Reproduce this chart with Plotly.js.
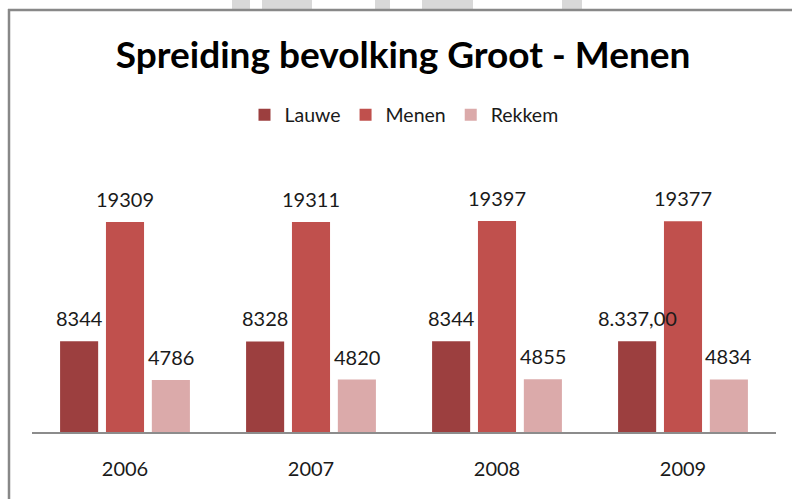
<!DOCTYPE html>
<html>
<head>
<meta charset="utf-8">
<script src="https://cdn.plot.ly/plotly-3.0.1.min.js"></script>
<style>html,body{margin:0;padding:0;background:#fff;} #chart{width:792px;height:499px;}</style>
</head>
<body>
<div id="chart"></div>
<script>
var years = ['2006', '2007', '2008', '2009'];
var lauwe = [8344, 8328, 8344, 8337];
var menen = [19309, 19311, 19397, 19377];
var rekkem = [4786, 4820, 4855, 4834];
var lauweLabels = ['8344', '8328', '8344', '8.337,00'];
var menenLabels = ['19309', '19311', '19397', '19377'];
var rekkemLabels = ['4786', '4820', '4855', '4834'];
var seriesNames = ['Lauwe', 'Menen', 'Rekkem'];
var colors = ['#9C3F3F', '#C0504D', '#DBAAAA'];

var FONT = 'Lato, "Open Sans", sans-serif';
var vals = [lauwe, menen, rekkem];
var labs = [lauweLabels, menenLabels, rekkemLabels];
var BARGAP = 0.26;

var traces = vals.map(function (v, i) {
  return {
    type: 'bar', name: seriesNames[i], x: years, y: v,
    marker: {color: colors[i]}, hoverinfo: 'skip'
  };
});

var slot = 744 / 4 * (1 - BARGAP) / 3;
var annotations = [];
vals.forEach(function (v, i) {
  v.forEach(function (val, j) {
    annotations.push({
      xref: 'x', yref: 'y', x: j, y: val, text: labs[i][j],
      showarrow: false, yanchor: 'bottom', xshift: (i - 1) * slot, yshift: 9,
      font: {family: FONT, size: 20, color: '#1a1a1a'}
    });
  });
});

var shapes = [];
function pxX(p) { return (p - 32) / 744; }
function pxY(p) { return (432 - p) / 272; }
// watermark blobs above the frame
[[232, 250], [262, 312], [375, 390], [422, 473], [562, 582]].forEach(function (b) {
  shapes.push({type: 'rect', xref: 'paper', yref: 'paper', x0: pxX(b[0]), x1: pxX(b[1]), y0: pxY(9), y1: pxY(-2),
    fillcolor: '#d8d8d8', line: {width: 0}, layer: 'below'});
});
// frame
shapes.push({type: 'line', xref: 'paper', yref: 'paper', x0: pxX(8), x1: pxX(800), y0: pxY(10), y1: pxY(10), line: {color: '#888888', width: 2.5}});
shapes.push({type: 'line', xref: 'paper', yref: 'paper', x0: pxX(9), x1: pxX(9), y0: pxY(9), y1: pxY(510), line: {color: '#888888', width: 2.5}});

var layout = {
  width: 792, height: 499,
  margin: {l: 32, r: 16, t: 160, b: 67},
  paper_bgcolor: '#ffffff', plot_bgcolor: '#ffffff',
  font: {family: FONT, color: '#1a1a1a'},
  title: {text: 'Spreiding bevolking Groot - Menen', x: 0.509, xanchor: 'center', xref: 'container',
    y: 1 - 55 / 499, yref: 'container', yanchor: 'middle',
    font: {family: FONT, size: 37, color: '#000000', weight: 'bold'}},
  barmode: 'group', bargap: BARGAP, bargroupgap: 0.17,
  showlegend: true,
  legend: {orientation: 'h', x: 0.5, xanchor: 'center', y: pxY(115), yanchor: 'middle',
    font: {family: FONT, size: 19.5, color: '#1a1a1a'}, traceorder: 'normal'},
  xaxis: {type: 'category', range: [-0.5, 3.5], showline: true, linecolor: '#8c8c8c', linewidth: 1.5, ticks: '', showgrid: false,
    zeroline: false, tickfont: {family: FONT, size: 20, color: '#1a1a1a'}, ticklabelstandoff: 18, fixedrange: true},
  yaxis: {range: [0, 25000], visible: false, showgrid: false, zeroline: false, fixedrange: true},
  annotations: annotations,
  shapes: shapes
};

Plotly.newPlot('chart', traces, layout, {displayModeBar: false, staticPlot: true});
</script>
</body>
</html>
